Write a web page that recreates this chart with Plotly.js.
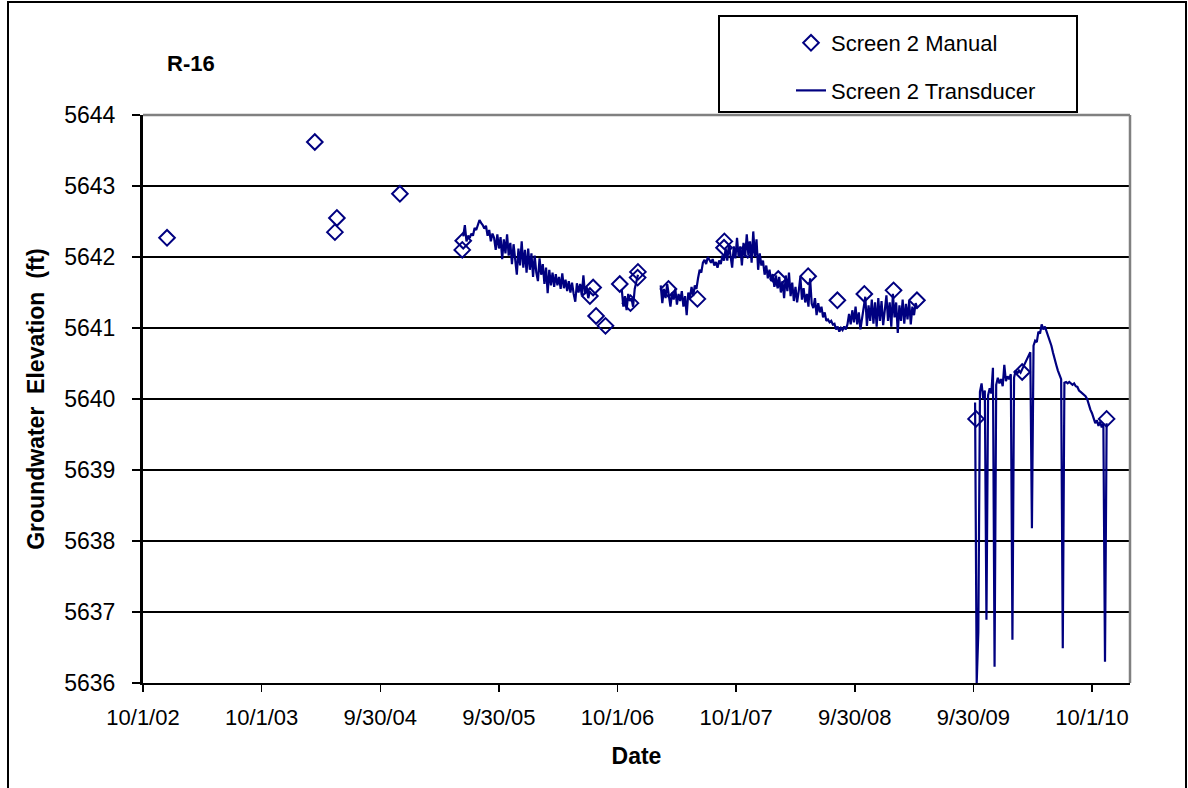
<!DOCTYPE html>
<html>
<head>
<meta charset="utf-8">
<script src="https://cdn.plot.ly/plotly-3.0.1.min.js"></script>
<style>html,body{margin:0;padding:0;background:#fff;}#chart{width:1188px;height:788px;}</style>
</head>
<body>
<div id="chart"></div>
<script>
// ---- Data ----
const chartTitle = 'R-16';
const xTitle = 'Date';
const yTitle = 'Groundwater  Elevation  (ft)';
const manualName = 'Screen 2 Manual';
const transducerName = 'Screen 2 Transducer';

const tickDates = ['2002-10-01','2003-10-01 06:00','2004-09-30 12:00','2005-09-30 18:00','2006-10-01','2007-10-01 06:00','2008-09-30 12:00','2009-09-30 18:00','2010-10-01'];
const tickLabels = ['10/1/02','10/1/03','9/30/04','9/30/05','10/1/06','10/1/07','9/30/08','9/30/09','10/1/10'];

const manualDates = ['2002-12-14','2004-03-13','2004-05-14','2004-05-20','2004-11-30','2005-06-10','2005-06-13','2006-07-08','2006-07-18','2006-07-27','2006-08-25','2006-10-08','2006-11-10','2006-12-02','2006-12-03','2007-03-07','2007-06-04','2007-08-25','2007-08-26','2007-11-06','2008-02-08','2008-05-10','2008-08-08','2008-10-30','2009-01-28','2009-04-10','2009-10-09','2010-02-28','2010-11-15'];
const manualValues = [5642.27,5643.62,5642.35,5642.55,5642.89,5642.10,5642.23,5641.45,5641.57,5641.17,5641.03,5641.62,5641.35,5641.71,5641.79,5641.55,5641.41,5642.13,5642.22,5642.10,5641.69,5641.73,5641.39,5641.48,5641.53,5641.39,5639.72,5640.38,5639.72];

// transducer record: logged every 5 days, four separate deployments
const sampleStepDays = 5;
const segAStart = '2005-06-13';
const segAValues = [5642.29,5642.45,5642.22,5642.30,5642.27,5642.33,5642.30,5642.41,5642.38,5642.47,5642.52,5642.48,5642.45,5642.40,5642.44,5642.30,5642.38,5642.22,5642.33,5642.27,5642.10,5642.32,5642.12,5642.28,5641.97,5642.25,5642.05,5642.32,5642.02,5642.20,5641.90,5642.18,5641.95,5641.75,5642.12,5641.88,5642.22,5641.85,5642.10,5641.78,5642.12,5641.82,5642.05,5641.72,5642.02,5641.78,5641.66,5641.98,5641.75,5641.90,5641.62,5641.85,5641.49,5641.82,5641.60,5641.78,5641.58,5641.76,5641.60,5641.72,5641.55,5641.77,5641.56,5641.68,5641.52,5641.66,5641.50,5641.64,5641.48,5641.37,5641.63,5641.50,5641.62,5641.46,5641.74,5641.48,5641.58,5641.42,5641.52];
const segBStart = '2006-10-14';
const segBValues = [5641.55,5641.30,5641.45,5641.25,5641.48,5641.38,5641.42,5641.30,5641.55,5641.68,5641.75];
const segCStart = '2007-02-11';
const segCValues = [5641.60,5641.35,5641.55,5641.42,5641.62,5641.48,5641.30,5641.50,5641.40,5641.55,5641.33,5641.48,5641.38,5641.52,5641.30,5641.45,5641.18,5641.50,5641.42,5641.58,5641.45,5641.60,5641.55,5641.70,5641.82,5641.78,5641.92,5641.96,5641.90,5642.00,5641.95,5641.92,5641.97,5641.88,5641.93,5641.85,5641.95,5641.90,5642.02,5641.95,5642.12,5641.95,5642.18,5642.02,5641.85,5642.15,5641.98,5642.27,5642.00,5642.15,5641.88,5642.20,5642.00,5642.32,5642.02,5642.22,5641.92,5642.36,5642.00,5642.25,5641.82,5642.05,5641.88,5641.95,5641.75,5641.88,5641.70,5641.82,5641.66,5641.76,5641.58,5641.74,5641.56,5641.72,5641.50,5641.66,5641.42,5641.74,5641.52,5641.78,5641.45,5641.64,5641.38,5641.58,5641.36,5641.52,5641.72,5641.40,5641.56,5641.36,5641.48,5641.30,5641.70,5641.34,5641.28,5641.42,5641.18,5641.35,5641.22,5641.30,5641.15,5641.22,5641.10,5641.12,5641.08,5641.10,5641.05,5641.06,5640.98,5641.02,5640.95,5641.00,5640.97,5641.02,5640.98,5641.05,5641.20,5641.05,5641.25,5641.08,5641.30,5641.05,5641.22,5640.98,5641.15,5641.28,5641.44,5641.03,5641.32,5641.10,5641.40,5641.06,5641.36,5641.02,5641.42,5641.10,5641.38,5641.04,5641.30,5641.46,5641.10,5641.36,5641.02,5641.48,5641.15,5641.36,5640.93,5641.32,5641.10,5641.40,5641.06,5641.34,5641.12,5641.38,5641.05,5641.30,5641.18,5641.35,5641.28];
const segDStart = '2009-10-06';
const segDValues = [5639.95,5636.00,5636.72,5640.10,5640.22,5640.00,5640.12,5636.89,5640.05,5640.15,5640.08,5640.44,5636.23,5640.20,5640.30,5640.22,5640.28,5640.18,5640.48,5640.25,5640.32,5640.28,5640.35,5636.61,5640.30,5640.40,5640.36,5640.40,5640.37,5640.42,5640.45,5640.52,5640.55,5640.62,5640.66,5638.18,5640.75,5640.82,5640.80,5640.95,5640.92,5641.05,5640.98,5641.02,5640.95,5640.90,5640.84,5640.75,5640.65,5640.55,5640.48,5640.40,5640.35,5640.28,5636.49,5640.23,5640.24,5640.22,5640.24,5640.22,5640.20,5640.22,5640.18,5640.17,5640.12,5640.10,5640.08,5640.06,5640.04,5640.00,5639.92,5639.85,5639.80,5639.72,5639.66,5639.70,5639.62,5639.68,5639.60,5639.65,5636.30,5639.66];

const xRange = ['2002-10-01','2011-01-26'];
const yRange = [5636, 5644];

// ---- Build transducer trace (segments separated by gaps) ----
function segDates(start, vals) {
  const t0 = Date.parse(start + 'T00:00:00Z');
  return vals.map((v, i) => new Date(t0 + i * sampleStepDays * 864e5).toISOString().slice(0, 10));
}
const segs = [[segAStart, segAValues],[segBStart, segBValues],[segCStart, segCValues],[segDStart, segDValues]];
let tX = [], tY = [];
segs.forEach((s, k) => {
  const d = segDates(s[0], s[1]);
  if (k > 0) { tX.push(d[0]); tY.push(null); }
  tX = tX.concat(d); tY = tY.concat(s[1]);
});

const navy = '#000080';
const font = 'Liberation Sans, Arial, sans-serif';

const traces = [
  {
    x: manualDates, y: manualValues, name: manualName, type: 'scatter', mode: 'markers',
    marker: {symbol: 'diamond-open', size: 12, color: navy, line: {width: 2, color: navy}},
    legendgroup: 'a'
  },
  {
    x: tX, y: tY, name: transducerName, type: 'scatter', mode: 'lines',
    line: {color: navy, width: 2.2}, connectgaps: false,
    legendgroup: 'b'
  }
];

// pixel -> paper helpers for decorative frame placement
const L = 143, R = 1130, T = 115, B = 683;
const px = v => (v - L) / (R - L);
const py = v => (B - v) / (B - T);

const layout = {
  width: 1188, height: 788,
  margin: {l: L, r: 1188 - R, t: T, b: 788 - B},
  paper_bgcolor: '#fff', plot_bgcolor: '#fff',
  font: {family: font, size: 22, color: '#000'},
  showlegend: true,
  title: {text: chartTitle, font: {family: font, size: 22, color: '#000', weight: 'bold'},
          x: 167/1188, xanchor: 'left', xref: 'container', y: 1 - 63/788, yanchor: 'middle', yref: 'container'},
  xaxis: {
    type: 'date', range: xRange, tickmode: 'array', tickvals: tickDates, ticktext: tickLabels,
    ticks: 'outside', ticklen: 7, tickwidth: 1.5, tickcolor: '#000',
    showline: true, linecolor: '#000', linewidth: 2, showgrid: false, zeroline: false,
    tickfont: {family: font, size: 22}, ticklabelstandoff: 7,
    title: {text: xTitle, font: {family: font, size: 23, weight: 'bold'}, standoff: 18}
  },
  yaxis: {
    range: yRange, dtick: 1, tick0: 5636, tickformat: 'd',
    ticks: 'outside', ticklen: 8, tickwidth: 1.5, tickcolor: '#000',
    showline: true, linecolor: '#000', linewidth: 3, showgrid: true, gridcolor: '#000', gridwidth: 1.6,
    zeroline: false, tickfont: {family: font, size: 23}, ticklabelstandoff: 12,
    title: {text: yTitle, font: {family: font, size: 23, weight: 'bold'}, standoff: 14}
  },
  legend: {
    x: px(791), xanchor: 'left', y: py(22), yanchor: 'top',
    bgcolor: 'rgba(0,0,0,0)', borderwidth: 0, tracegroupgap: 16,
    font: {family: font, size: 22, color: '#000'}, traceorder: 'grouped'
  },
  shapes: [
    {type: 'line', xref: 'paper', yref: 'paper', x0: 0, x1: 1, y0: 1, y1: 1, line: {color: '#808080', width: 2.5}, layer: 'above'},
    {type: 'line', xref: 'paper', yref: 'paper', x0: 1, x1: 1, y0: 0, y1: 1, line: {color: '#808080', width: 2.5}, layer: 'above'},
    {type: 'rect', xref: 'paper', yref: 'paper', x0: px(719), x1: px(1077), y0: py(112), y1: py(16), line: {color: '#000', width: 2}, fillcolor: 'rgba(0,0,0,0)'},
    {type: 'rect', xref: 'paper', yref: 'paper', x0: px(8), x1: px(1186), y0: py(800), y1: py(2), line: {color: '#000', width: 2}, fillcolor: 'rgba(0,0,0,0)'}
  ]
};

Plotly.newPlot('chart', traces, layout, {displayModeBar: false, staticPlot: true});
</script>
</body>
</html>
